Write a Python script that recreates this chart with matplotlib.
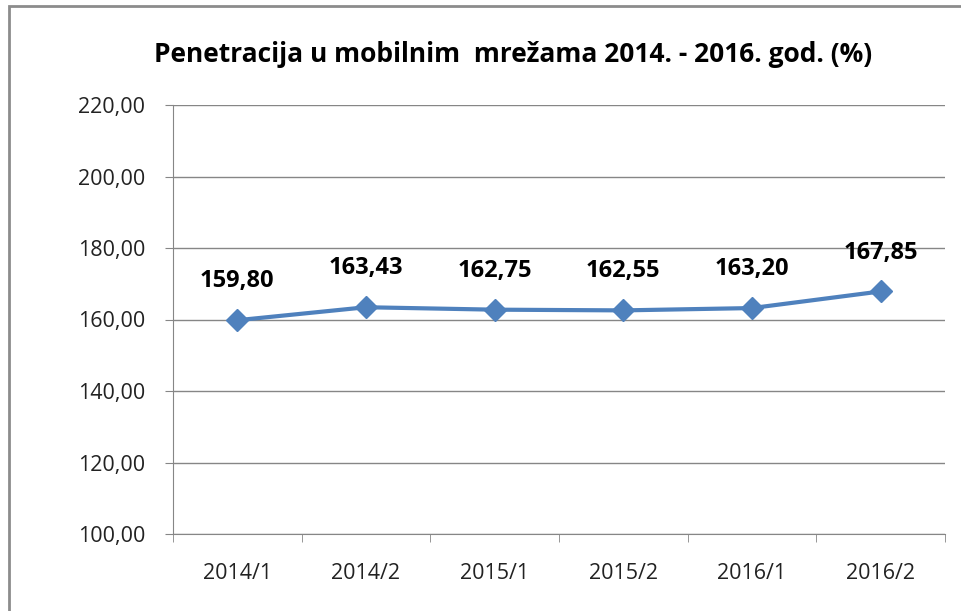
import matplotlib.pyplot as plt
from matplotlib.patches import Rectangle
from matplotlib.ticker import FixedLocator, FuncFormatter

# data
periods = ["2014/1", "2014/2", "2015/1", "2015/2", "2016/1", "2016/2"]
penetration = [159.80, 163.43, 162.75, 162.55, 163.20, 167.85]
title = "Penetracija u mobilnim  mrežama 2014. - 2016. god. (%)"

plt.rcParams['font.family'] = ['Open Sans', 'DejaVu Sans']

fig = plt.figure(figsize=(9.61, 6.11), dpi=100)
ax = fig.add_axes([173/961, 1 - 534/611, (945 - 173)/961, (534 - 105)/611])

# outer chart frame (left and top edges only visible)
fig.patches.append(Rectangle((9/961, -0.05), 1.2, 1 - 6/611 + 0.05, transform=fig.transFigure,
                             fill=False, edgecolor='#8c8c8c', linewidth=2))

x = list(range(len(periods)))
ax.plot(x, penetration, color='#4F81BD', linewidth=3, marker='D', markersize=11,
        markerfacecolor='#4F81BD', markeredgecolor='#4F81BD', zorder=3)

for xi, v in zip(x, penetration):
    ax.annotate(f"{v:.2f}".replace('.', ','), (xi, v), xytext=(0, 28), textcoords='offset points',
                ha='center', va='center', fontsize=17, fontweight='bold', color='black')

ax.set_xlim(-0.5, len(periods) - 0.5)
ax.set_ylim(100, 220)
ax.set_yticks(range(100, 221, 20))
ax.yaxis.set_major_formatter(FuncFormatter(lambda v, p: f"{v:.2f}".replace('.', ',')))
ax.set_xticks(x)
ax.set_xticklabels(periods)
ax.xaxis.set_minor_locator(FixedLocator([i - 0.5 for i in range(len(periods) + 1)]))
ax.tick_params(axis='x', which='major', length=0, pad=21, labelsize=15.5, labelcolor='#222222')
ax.tick_params(axis='x', which='minor', length=6, color='#868686', direction='out')
ax.tick_params(axis='y', length=6, color='#868686', direction='out', pad=14, labelsize=15.5,
               labelcolor='#222222')

ax.grid(axis='y', color='#868686', linewidth=1)
ax.set_axisbelow(True)
for s in ['top', 'right']:
    ax.spines[s].set_visible(False)
for s in ['left', 'bottom']:
    ax.spines[s].set_color('#868686')

fig.text(513/961, 1 - 54/611, title, ha='center', va='center',
         fontsize=19, fontweight='bold')

fig.savefig('out.png', dpi=100)
